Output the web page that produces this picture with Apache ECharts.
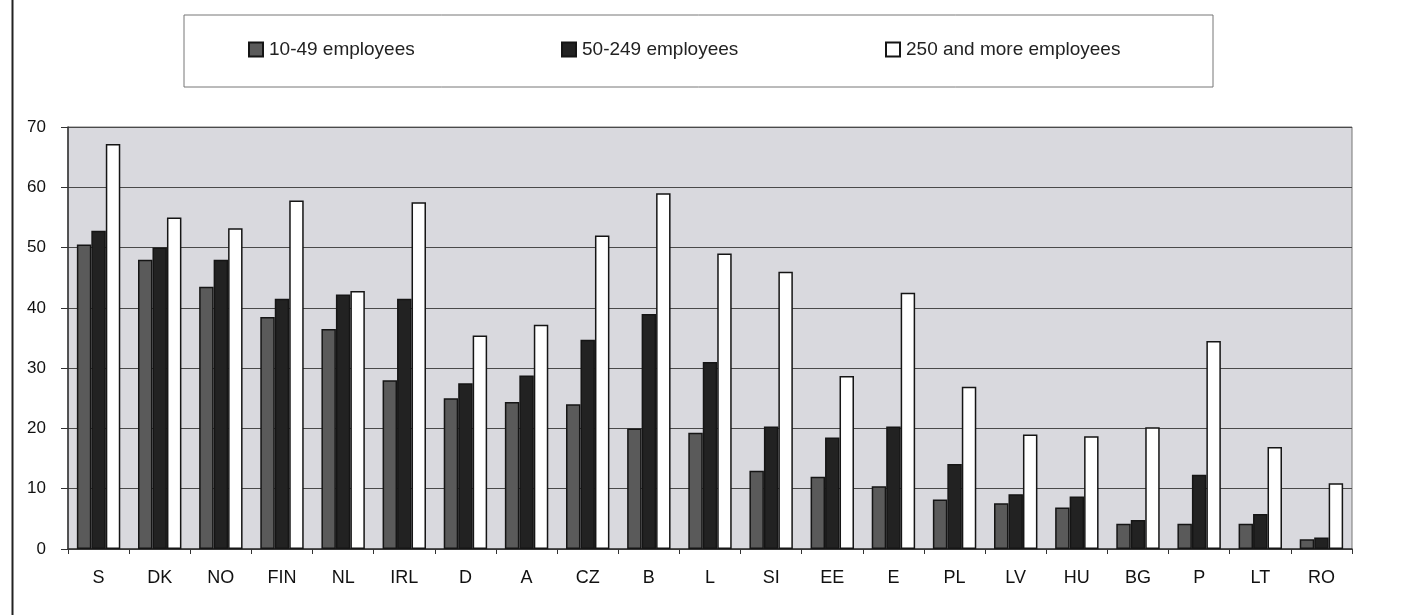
<!DOCTYPE html>
<html>
<head>
<meta charset="utf-8">
<script src="https://cdn.jsdelivr.net/npm/echarts@6/dist/echarts.min.js"></script>
<style>
  html, body { margin: 0; padding: 0; background: #fff; }
  #chart { width: 1421px; height: 615px; }
</style>
</head>
<body>
<div id="chart"></div>
<script>
// countries, ordered as in the source chart
const countries = ['S', 'DK', 'NO', 'FIN', 'NL', 'IRL', 'D', 'A', 'CZ', 'B', 'L',
  'SI', 'EE', 'E', 'PL', 'LV', 'HU', 'BG', 'P', 'LT', 'RO']

const small = [50.5, 48, 43.5, 38.5, 36.5, 28, 25, 24.4, 24, 20, 19.3,
  13, 12, 10.4, 8.2, 7.6, 6.9, 4.2, 4.2, 4.2, 1.6]
const medium = [52.8, 50, 48, 41.5, 42.2, 41.5, 27.5, 28.8, 34.7, 39, 31,
  20.3, 18.5, 20.3, 14.1, 9.1, 8.7, 4.8, 12.3, 5.8, 1.9]
const large = [67.2, 55, 53.2, 57.8, 42.8, 57.5, 35.4, 37.2, 52, 59, 49,
  46, 28.7, 42.5, 26.9, 19, 18.7, 20.2, 34.5, 16.9, 10.9]

const seriesNames = ['10-49 employees', '50-249 employees', '250 and more employees']
const yTicks = { min: 0, max: 70, interval: 10 }

const font = 'Liberation Sans, Arial, sans-serif'

const myChart = echarts.init(document.getElementById('chart'))

const legendStyle = {
  top: 40,
  padding: 0,
  icon: 'rect',
  itemWidth: 14,
  itemHeight: 14,
  textStyle: { fontFamily: font, fontSize: 19, color: '#222', padding: [0, 0, 0, 1] },
  selectedMode: false
}

const barStyle = {
  borderColor: '#151515',
  borderWidth: 1.5
}

const option = {
  backgroundColor: '#fff',
  animation: false,
  graphic: [
    // frame of the legend
    {
      type: 'rect', z: 0,
      shape: { x: 184, y: 15, width: 1029, height: 72 },
      style: { fill: '#fff', stroke: '#777', lineWidth: 1 }
    },
    // left edge of the outer frame
    {
      type: 'line', z: 0,
      shape: { x1: 12.5, y1: 0, x2: 12.5, y2: 615 },
      style: { stroke: '#222', lineWidth: 2 }
    }
  ],
  legend: [
    Object.assign({ left: 248, data: [seriesNames[0]] }, legendStyle),
    Object.assign({ left: 561, data: [seriesNames[1]] }, legendStyle),
    Object.assign({ left: 885, data: [seriesNames[2]] }, legendStyle)
  ],
  grid: {
    left: 68,
    right: 69,
    top: 127,
    bottom: 66,
    show: true,
    backgroundColor: '#d9d9de',
    borderColor: '#777',
    borderWidth: 1
  },
  xAxis: {
    type: 'category',
    data: countries,
    axisLine: { lineStyle: { color: '#333', width: 1.5 } },
    axisTick: { show: true, length: 5, lineStyle: { color: '#333' } },
    axisLabel: { fontFamily: font, fontSize: 18, color: '#111', margin: 20 }
  },
  yAxis: {
    type: 'value',
    min: yTicks.min,
    max: yTicks.max,
    interval: yTicks.interval,
    axisLine: { show: true, lineStyle: { color: '#333', width: 1.5 } },
    axisTick: { show: true, length: 7, lineStyle: { color: '#333' } },
    axisLabel: { fontFamily: font, fontSize: 17, color: '#111', margin: 22 },
    splitLine: { lineStyle: { color: '#4a4a4a', width: 1 } }
  },
  series: [
    {
      name: seriesNames[0], type: 'bar', data: small,
      barGap: '0%', barCategoryGap: '29%',
      itemStyle: Object.assign({ color: '#5a5a5a' }, barStyle)
    },
    {
      name: seriesNames[1], type: 'bar', data: medium,
      barGap: '0%', barCategoryGap: '29%',
      itemStyle: Object.assign({ color: '#222222' }, barStyle)
    },
    {
      name: seriesNames[2], type: 'bar', data: large,
      barGap: '0%', barCategoryGap: '29%',
      itemStyle: Object.assign({ color: '#ffffff' }, barStyle)
    }
  ]
}

myChart.setOption(option)
</script>
</body>
</html>
